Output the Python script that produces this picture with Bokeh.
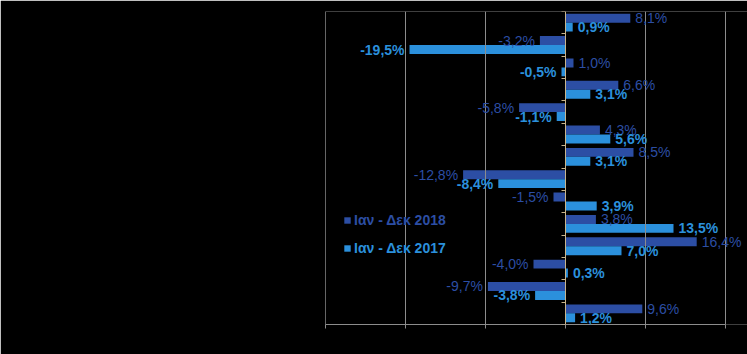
from bokeh.plotting import figure
from bokeh.models import (ColumnDataSource, Range1d, LinearAxis, FixedTicker,
                          Legend, LegendItem, Span, Label)
from bokeh.embed import file_html
from bokeh.resources import INLINE

# ---- data ----
categories = [f"κατηγορία {i}" for i in range(1, 15)]
v2018 = [8.1, -3.2, 1.0, 6.6, -5.8, 4.3, 8.5, -12.8, -1.5, 3.8, 16.4, -4.0, -9.7, 9.6]
v2017 = [0.9, -19.5, -0.5, 3.1, -1.1, 5.6, 3.1, -8.4, 3.9, 13.5, 7.0, 0.3, -3.8, 1.2]
series_names = ["Ιαν - Δεκ 2018", "Ιαν - Δεκ 2017"]
x_ticks = [-30, -20, -10, 0, 10, 20]

C2018 = "#2C4EA4"
C2017 = "#2B90DC"
FONT = "Liberation Sans"

n = len(categories)
p = figure(width=747, height=354, output_backend="svg", toolbar_location=None,
           x_range=Range1d(-30, 22.75), y_range=Range1d(n, 0),
           min_border_left=325, min_border_right=0, min_border_top=11,
           min_border_bottom=30, background_fill_color="black",
           border_fill_color="black", outline_line_color=None)

p.xaxis.visible = False
p.yaxis.visible = False
p.xgrid.visible = False
p.ygrid.visible = False

# bottom axis (grey) with ticks at gridlines, labels hidden
xax = LinearAxis(ticker=FixedTicker(ticks=x_ticks, minor_ticks=[]), bounds=(-30, 20),
                 axis_line_color="#8c8c8c",
                 major_tick_line_color="#8c8c8c", major_tick_out=4, major_tick_in=0,
                 minor_tick_line_color=None, major_label_text_alpha=0,
                 major_label_text_font_size="1px")
p.add_layout(xax, "below")

# vertical gridlines
for t in x_ticks:
    if t != 0:
        p.add_layout(Span(location=t, dimension="height", line_color="#8c8c8c",
                          line_width=1))

# zero axis (tan) with ticks at category boundaries
yax = LinearAxis(ticker=FixedTicker(ticks=list(range(0, n + 1)), minor_ticks=[]),
                 fixed_location=0,
                 axis_line_color="#C8B48C", major_tick_line_color="#C8B48C",
                 major_tick_out=4, major_tick_in=0, minor_tick_line_color=None,
                 major_label_text_alpha=0, major_label_text_font_size="1px")
p.add_layout(yax, "left")

y18 = [i + 0.3 for i in range(n)]
y17 = [i + 0.7 for i in range(n)]

def fmt(v):
    return f"{v:.1f}".replace(".", ",") + "%"

renderers = []
for vals, ys, col, bold in [(v2018, y18, C2018, False), (v2017, y17, C2017, True)]:
    src = ColumnDataSource(dict(y=ys, v=vals))
    r = p.hbar(y="y", right="v", left=0, height=0.4, source=src,
               fill_color=col, line_color=None)
    renderers.append(r)
    style = "bold" if bold else "normal"
    for v, y in zip(vals, ys):
        p.add_layout(Label(x=v, y=y, text=fmt(v),
                           x_offset=5 if v >= 0 else -5,
                           text_align="left" if v >= 0 else "right",
                           text_baseline="middle", text_color=col,
                           text_font=FONT, text_font_size="14px",
                           text_font_style=style))

for r, name, col, loc in [(renderers[0], series_names[0], C2018, (18, 96)),
                          (renderers[1], series_names[1], C2017, (18, 68))]:
    lg = Legend(items=[LegendItem(label=name, renderers=[r])], location=loc,
                margin=0, padding=0, spacing=0, border_line_alpha=0,
                background_fill_alpha=0, glyph_width=8, glyph_height=8,
                label_standoff=3, label_height=16,
                label_text_color=col, label_text_font=FONT,
                label_text_font_size="14px", label_text_font_style="bold")
    p.add_layout(lg)

open("out.html", "w").write(file_html(p, INLINE))
